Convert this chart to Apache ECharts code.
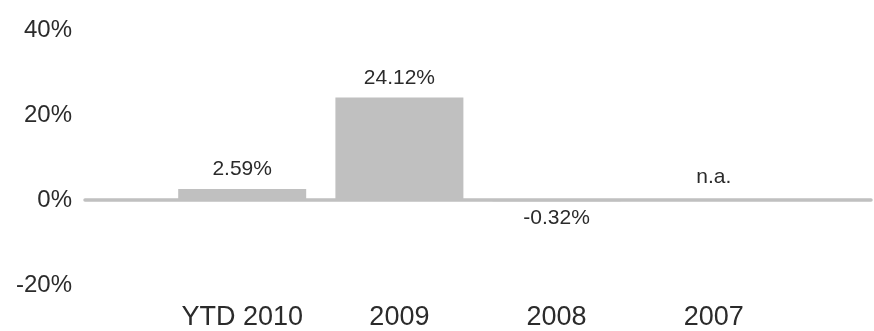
<!DOCTYPE html>
<html>
<head>
<meta charset="utf-8">
<style>
  html, body { margin: 0; padding: 0; background: #ffffff; }
  #chart { width: 874px; height: 331px; }
</style>
<script src="https://cdn.jsdelivr.net/npm/echarts@6/dist/echarts.min.js"></script>
</head>
<body>
<div id="chart"></div>
<script>
// Data
var categories = ['', 'YTD 2010', '2009', '2008', '2007', ''];
var values = [null, 2.59, 24.12, -0.32, 0, null];
var valueLabels = ['', '2.59%', '24.12%', '-0.32%', 'n.a.', ''];
var yTicks = [-20, 0, 20, 40];

var chart = echarts.init(document.getElementById('chart'), null, { renderer: 'canvas' });

var FONT = 'Liberation Sans, Arial, sans-serif';
var TEXT = '#2b2b2b';

var seriesData = values.map(function (v, i) {
  var item = { value: v };
  if (v !== null && v < 0) {
    item.label = { position: 'bottom', distance: 6 };
  } else if (v === 0) {
    item.label = { distance: 12 };
  }
  return item;
});

chart.setOption({
  animation: false,
  backgroundColor: '#ffffff',
  grid: { left: 85, width: 820, top: 30, bottom: 36, containLabel: false },
  xAxis: [
    {
      type: 'category',
      data: categories,
      boundaryGap: false,
      position: 'bottom',
      axisLine: { show: false, onZero: false },
      axisTick: { show: false },
      axisLabel: { show: true, color: TEXT, fontFamily: FONT, fontSize: 27, margin: 19, interval: 0 },
      splitLine: { show: false }
    },
    {
      type: 'category',
      data: categories,
      boundaryGap: false,
      position: 'bottom',
      axisLine: { show: true, onZero: true, lineStyle: { color: '#c0c0c0', width: 3.5 } },
      axisTick: { show: false },
      axisLabel: { show: false },
      splitLine: { show: false }
    }
  ],
  yAxis: {
    type: 'value',
    min: yTicks[0],
    max: yTicks[yTicks.length - 1],
    interval: 20,
    axisLine: { show: false },
    axisTick: { show: false },
    splitLine: { show: false },
    axisLabel: {
      color: TEXT, fontFamily: FONT, fontSize: 24, margin: 13,
      formatter: function (v) { return v + '%'; }
    }
  },
  series: [
    {
      type: 'bar',
      xAxisIndex: 1,
      data: seriesData,
      barWidth: 128,
      itemStyle: { color: '#c0c0c0' },
      label: {
        show: true,
        position: 'top',
        distance: 9,
        color: TEXT,
        fontFamily: FONT,
        fontSize: 21,
        formatter: function (p) { return valueLabels[p.dataIndex]; }
      }
    }
  ]
});
</script>
</body>
</html>
